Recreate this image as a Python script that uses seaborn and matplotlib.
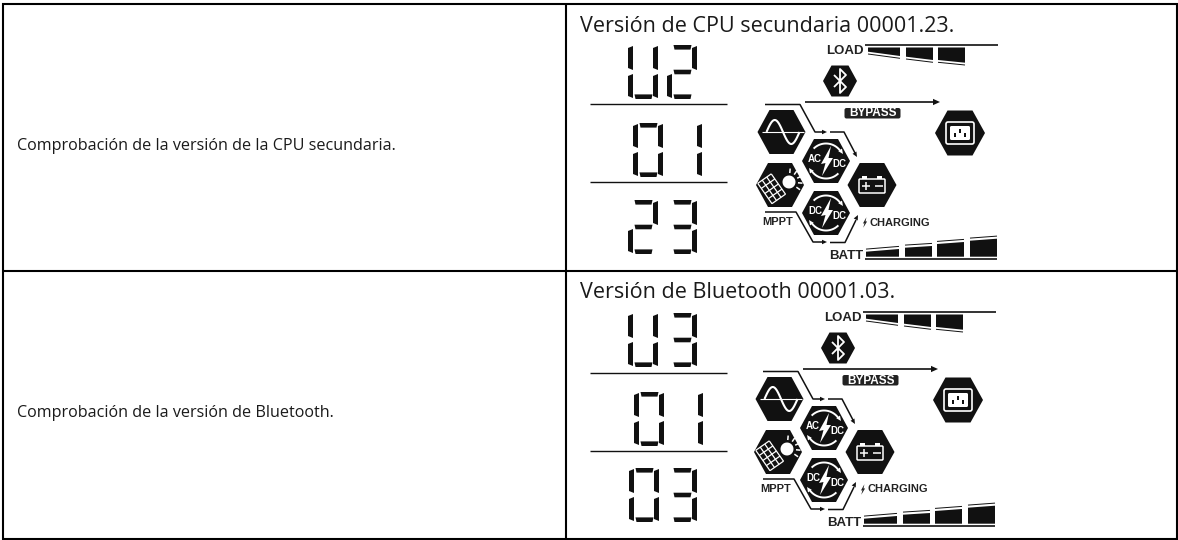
# -*- coding: utf-8 -*-
import numpy as np
import seaborn as sns
import matplotlib.pyplot as plt
from matplotlib.patches import FancyBboxPatch

# table text
desc_labels = ['Comprobación de la versión de la CPU secundaria.',
               'Comprobación de la versión de Bluetooth.']
head_labels = ['Versión de CPU secundaria 00001.23.',
               'Versión de Bluetooth 00001.03.']

# what the LCD shows in each table row
lcd_rows_1 = ['U2', '01', '23']
lcd_rows_2 = ['U3', '01', '03']

# which segments each glyph lights: top, upper right, lower right, bottom,
# lower left, upper left, middle
glyph_segs = {'0': 'abcdef', '1': 'bc', '2': 'abdeg', '3': 'abcdg', 'U': 'bcdef'}

sns.set_theme(style='white')
plt.rcParams['font.family'] = ['Open Sans', 'DejaVu Sans']

fig, ax = plt.subplots(figsize=(11.78, 5.40), dpi=100)
ax.set_position([0, 0, 1, 1])
INK = '#111111'


def rule(xs, ys, lw=1.5, color=INK):
    sns.lineplot(x=xs, y=ys, ax=ax, color=color, linewidth=lw, estimator=None,
                 sort=False, legend=False, solid_capstyle='butt')


def hexagon(cx, cy, a=24, b=22, color=INK):
    ax.fill([cx - a, cx - a / 2, cx + a / 2, cx + a, cx + a / 2, cx - a / 2],
            [cy, cy - b, cy - b, cy, cy + b, cy + b], color=color, lw=0)


def head(x, y, ang, size=6, color=INK):
    # little arrow head, ang in degrees (screen coordinates)
    t = np.deg2rad(ang)
    ux, uy = np.cos(t), np.sin(t)
    ax.fill([x, x - size * ux - size * .45 * uy, x - size * ux + size * .45 * uy],
            [y, y - size * uy + size * .45 * ux, y - size * uy - size * .45 * ux],
            color=color, lw=0)


def bolt(cx, cy, s=1.0, color='white'):
    xs = np.array([4, -6, -1.5, -5, 6, 1.5])
    ys = np.array([-15, 3, 2, 15, -3, -3])
    ax.fill(cx + xs * s, cy + ys * s, color=color, lw=0)


def draw_digit(ch, x, top, w, h):
    t = 4.6
    mid = top + h / 2
    on = glyph_segs[ch]
    hor = {'a': top, 'g': mid, 'd': top + h}
    for k, yc in hor.items():
        if k in on:
            x0, x1 = x + 6.5, x + w - 5.5
            ax.fill([x0, x1, x1 - 1, x0 + 1], [yc, yc, yc + t, yc + t] if k == 'a'
                    else ([yc - t, yc - t, yc, yc] if k == 'd'
                          else [yc - t / 2, yc - t / 2, yc + t / 2, yc + t / 2]),
                    color=INK, lw=0)
    ver = {'f': (x, top + 1, mid - 2), 'e': (x, mid + 2, top + h - 1),
           'b': (x + w - 5, top + 1, mid - 2), 'c': (x + w - 5, mid + 2, top + h - 1)}
    for k, (xv, y0, y1) in ver.items():
        if k in on:
            ax.fill([xv, xv + 5, xv + 5, xv], [y0 + 2, y0, y1, y1 - 2], color=INK, lw=0)


def draw_lcd(rows, row_x, row_top, line_y, dx, dy):
    for text, xs, top in zip(rows, row_x, row_top):
        draw_digit(text[0], xs[0], top, 30, 54)
        draw_digit(text[1], xs[1], top, 30, 54)
    for y in line_y:
        rule([590, 727], [y, y], lw=1.0)

    # load bars
    rule([865 + dx, 998 + dx], [45 + dy, 45 + dy], lw=1.2)
    load_x = [(868, 900), (906, 933), (938, 965)]
    load_low = [(51.7, 56), (56.7, 60), (60, 62.7)]
    for (x0, x1), (y0, y1) in zip(load_x, load_low):
        ax.fill([x0 + dx, x1 + dx, x1 + dx, x0 + dx],
                [47.5 + dy, 47.5 + dy, y1 + dy, y0 + dy], color=INK, lw=0)
        rule([x0 + dx, x1 + dx], [y0 + 2.3 + dy, y1 + 2.3 + dy], lw=0.7)
    ax.text(844.5 + dx, 51 + dy, 'LOAD', family='Liberation Sans', weight='bold',
            fontsize=9.5, ha='center', va='center', color='#222222')

    # batt bars
    rule([865 + dx, 997 + dx], [259 + dy, 259 + dy], lw=1.2)
    batt_x = [(866, 899), (905, 932), (937, 964), (970, 997)]
    batt_top = [(251.7, 249), (247.7, 246), (244, 242), (240.7, 238.7)]
    for (x0, x1), (y0, y1) in zip(batt_x, batt_top):
        ax.fill([x0 + dx, x1 + dx, x1 + dx, x0 + dx],
                [y0 + dy, y1 + dy, 256.7 + dy, 256.7 + dy], color=INK, lw=0)
        rule([x0 + dx, x1 + dx], [y0 - 2.6 + dy, y1 - 2.6 + dy], lw=0.7)
    ax.text(846 + dx, 256 + dy, 'BATT', family='Liberation Sans', weight='bold',
            fontsize=9.5, ha='center', va='center', color='#222222')

    # bluetooth
    cx, cy = 840 + dx, 81 + dy
    hexagon(cx, cy, 17, 15.5)
    rule([cx - 6, cx + 6, cx, cx, cx + 6, cx - 6],
         [cy - 6, cy + 6, cy + 12, cy - 12, cy - 6, cy + 6], lw=1.3, color='white')

    # bypass arrow and label
    rule([805 + dx, 935 + dx], [102 + dy, 102 + dy], lw=1.2)
    head(940 + dx, 102 + dy, 0, 7)
    ax.add_patch(FancyBboxPatch((846 + dx, 109.5 + dy), 53, 7.5,
                                boxstyle='round,pad=1.5,rounding_size=2',
                                fc='#222222', ec='none'))
    ax.text(872.5 + dx, 113.5 + dy, 'BYPASS', family='Liberation Sans', weight='bold',
            fontsize=8.5, ha='center', va='center', color='white')

    # socket
    cx, cy = 960 + dx, 133 + dy
    hexagon(cx, cy, 25, 22.5)
    ax.add_patch(FancyBboxPatch((cx - 14, cy - 11), 28, 22,
                                boxstyle='round,pad=0,rounding_size=2',
                                fc='none', ec='white', lw=1.2))
    ax.add_patch(FancyBboxPatch((cx - 10, cy - 7), 20, 14,
                                boxstyle='round,pad=0,rounding_size=1.5',
                                fc='white', ec='none'))
    for ox, oy in [(-5, 1.5), (0, -2), (5, 1.5)]:
        ax.fill([cx + ox - 1, cx + ox + 1, cx + ox + 1, cx + ox - 1],
                [cy + oy - 2, cy + oy - 2, cy + oy + 2, cy + oy + 2], color=INK, lw=0)

    # battery
    cx, cy = 872 + dx, 185 + dy
    hexagon(cx, cy, 24.5, 22)
    ax.add_patch(FancyBboxPatch((cx - 13, cy - 6), 26, 14,
                                boxstyle='round,pad=0,rounding_size=1',
                                fc='none', ec='white', lw=1.1))
    for tx in (cx - 10, cx + 5):
        ax.fill([tx, tx + 5, tx + 5, tx], [cy - 9, cy - 9, cy - 6, cy - 6], color='white', lw=0)
    rule([cx - 10, cx - 2], [cy + 1, cy + 1], lw=1.1, color='white')
    rule([cx - 6, cx - 6], [cy - 3, cy + 5], lw=1.1, color='white')
    rule([cx + 3, cx + 11], [cy + 1, cy + 1], lw=1.1, color='white')

    # sine wave
    cx, cy = 781.5 + dx, 132 + dy
    hexagon(cx, cy)
    wx = np.linspace(-15, 18, 60)
    rule((cx + wx).tolist(), (cy - 12 * np.sin((wx + 15) / 33 * 2 * np.pi)).tolist(), lw=1.5, color='white')
    rule([cx - 20, cx + 22], [cy, cy], lw=0.8, color='white')

    # ac/dc and dc/dc converters
    for cy0, left in ((161, 'AC'), (213, 'DC')):
        cx, cy = 826 + dx, cy0 + dy
        hexagon(cx, cy)
        th = np.deg2rad(np.linspace(225, 325, 30))
        rule((cx + 17.5 * np.cos(th)).tolist(), (cy + 17.5 * np.sin(th)).tolist(), lw=1.4, color='white')
        rule((cx + 17.5 * np.cos(th - np.pi)).tolist(), (cy + 17.5 * np.sin(th - np.pi)).tolist(), lw=1.4, color='white')
        head(cx + 17, cy - 7, 55, 5, color='white')
        head(cx - 17, cy + 7, 235, 5, color='white')
        ax.text(cx - 11, cy - 2, left, family='Liberation Sans', weight='bold', fontsize=7,
                ha='center', va='center', color='white')
        ax.text(cx + 13, cy + 3, 'DC', family='Liberation Sans', weight='bold', fontsize=7,
                ha='center', va='center', color='white')
        bolt(cx + 1, cy, 1.0)

    # solar panel with sun
    cx, cy = 780 + dx, 185 + dy
    hexagon(cx, cy)
    rot = np.deg2rad(-35)
    pc = np.array([-8.0, 3.0])
    for u in np.arange(-9, 8, 5.5):
        p = np.array([[u, u], [-12, 13]])
        rule((cx + pc[0] + p[0] * np.cos(rot) - p[1] * np.sin(rot)).tolist(),
             (cy + pc[1] + p[0] * np.sin(rot) + p[1] * np.cos(rot)).tolist(), lw=0.9, color='white')
    for v in np.arange(-12, 14, 6.2):
        p = np.array([[-9, 7.5], [v, v]])
        rule((cx + pc[0] + p[0] * np.cos(rot) - p[1] * np.sin(rot)).tolist(),
             (cy + pc[1] + p[0] * np.sin(rot) + p[1] * np.cos(rot)).tolist(), lw=0.9, color='white')
    th = np.linspace(0, 2 * np.pi, 30)
    ax.fill(cx + 9 + 6.5 * np.cos(th), cy - 3 + 6.5 * np.sin(th), color='white', lw=0)
    for a in np.deg2rad([-85, -55, -25, 5, 35]):
        rule([cx + 9 + 9 * np.cos(a), cx + 9 + 13.5 * np.cos(a)],
             [cy - 3 + 9 * np.sin(a), cy - 3 + 13.5 * np.sin(a)], lw=1.1, color='white')

    # power flow lines
    rule([765 + dx, 800 + dx, 815 + dx, 822 + dx], [104.5 + dy, 104.5 + dy, 132 + dy, 132 + dy], lw=1.1)
    head(827 + dx, 132 + dy, 0, 5)
    rule([830 + dx, 844 + dx, 855 + dx], [132 + dy, 132 + dy, 153 + dy], lw=1.1)
    head(857 + dx, 157 + dy, 60, 5)
    rule([765 + dx, 796 + dx, 813 + dx, 822 + dx], [212 + dy, 212 + dy, 242 + dy, 242 + dy], lw=1.1)
    head(827 + dx, 242 + dy, 0, 5)
    rule([830 + dx, 845 + dx, 856 + dx], [242.5 + dy, 242.5 + dy, 220 + dy], lw=1.1)
    head(858 + dx, 215 + dy, -63, 5)

    ax.text(777.5 + dx, 222 + dy, 'MPPT', family='Liberation Sans', weight='bold',
            fontsize=8, ha='center', va='center', color='#222222')
    bolt(865 + dx, 222.5 + dy, 0.35, color='#222222')
    ax.text(869 + dx, 222.5 + dy, 'CHARGING', family='Liberation Sans', weight='bold',
            fontsize=8, ha='left', va='center', color='#222222')


# table rules
for y in (3.5, 270.7, 538.7):
    rule([1.5, 1178], [y, y], lw=1.5, color='black')
for x in (2.5, 566, 1177):
    rule([x, x], [3, 539.5], lw=1.5, color='black')

# table text
for label, y in zip(desc_labels, (150, 417)):
    ax.text(17, y, label, fontsize=11.6, ha='left', va='baseline', color='#1a1a1a')
for label, y in zip(head_labels, (31.7, 298.3)):
    ax.text(580, y, label, fontsize=15.45, ha='left', va='baseline', color='#1a1a1a')

draw_lcd(lcd_rows_1, [(628, 667), (633, 672), (628, 667)], [45, 123, 200], [104, 182], 0, 0)
draw_lcd(lcd_rows_2, [(628, 667), (634, 673), (629, 667)], [313, 392, 468], [373, 451], -2, 267)

ax.set_xlim(0, 1178)
ax.set_ylim(540, 0)
ax.axis('off')

plt.savefig('out.png', dpi=100)
